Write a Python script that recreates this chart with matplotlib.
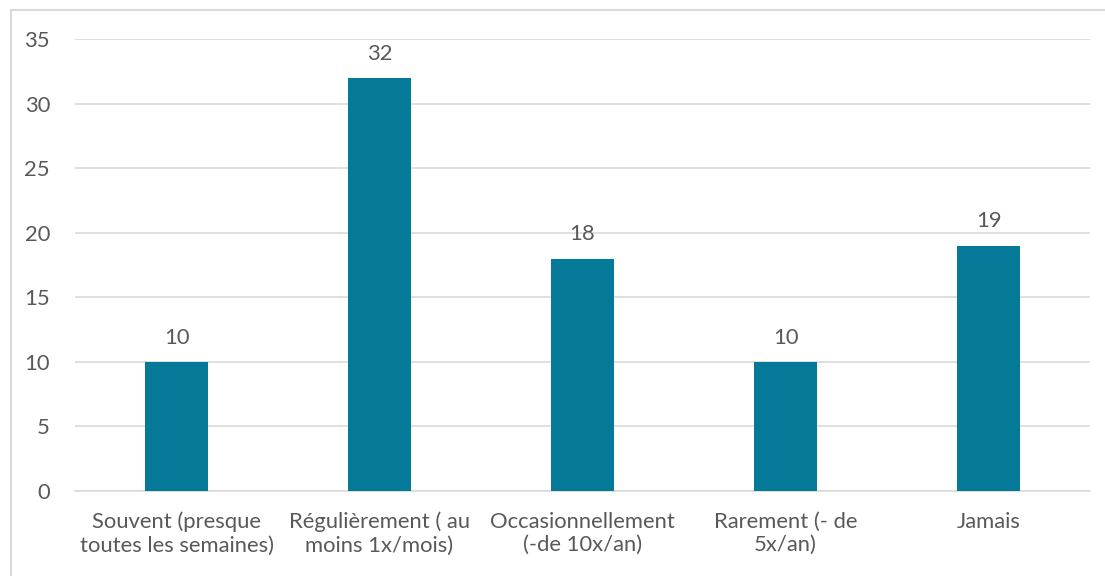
import numpy as np
import matplotlib.pyplot as plt
from matplotlib.patches import Rectangle

categories = ['Souvent (presque\ntoutes les semaines)', 'Régulièrement ( au\nmoins 1x/mois)',
              'Occasionnellement\n(-de 10x/an)', 'Rarement (- de\n5x/an)', 'Jamais']
values = [10, 32, 18, 10, 19]
yticks = [0, 5, 10, 15, 20, 25, 30, 35]

plt.rcParams['font.family'] = ['Lato', 'DejaVu Sans']
txt = '#595959'
fs = 15.8

fig = plt.figure(figsize=(11.05, 5.76), dpi=100)
fig.patches.append(Rectangle((11 / 1105, -0.1), 1.2, 1 - 10 / 576 + 0.1, transform=fig.transFigure,
                             fill=False, edgecolor='#D9D9D9', linewidth=1.5))
ax = fig.add_axes([75 / 1105, 1 - 491 / 576, (1090 - 75) / 1105, (491 - 39) / 576])

x = np.arange(len(values))
bars = ax.bar(x, values, width=0.31, color='#057A98', zorder=3)
for b, v in zip(bars, values):
    ax.text(b.get_x() + b.get_width() / 2, v + 1.1, str(v), ha='center', va='bottom',
            fontsize=fs, color=txt)

ax.set_xlim(-0.5, len(values) - 0.5)
ax.set_ylim(0, 35)
ax.set_yticks(yticks)
ax.set_xticks(x)
ax.set_xticklabels(categories, fontsize=fs, color=txt, linespacing=1.2)
ax.tick_params(axis='y', labelsize=fs, labelcolor=txt, length=0, pad=18)
ax.tick_params(axis='x', length=0, pad=15)
ax.grid(axis='y', color='#D9D9D9', linewidth=1.2, zorder=0)
for s in ['top', 'right', 'left']:
    ax.spines[s].set_visible(False)
ax.spines['bottom'].set_color('#D9D9D9')
ax.spines['bottom'].set_linewidth(1.2)

fig.savefig('out.png', dpi=100)
